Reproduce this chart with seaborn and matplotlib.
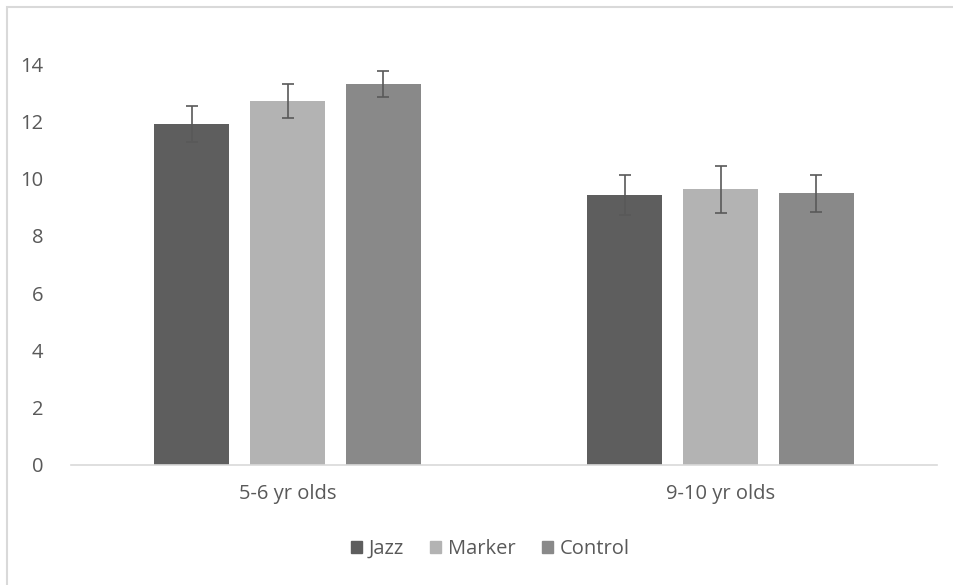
import matplotlib
matplotlib.use('Agg')
import matplotlib.pyplot as plt
import seaborn as sns
import pandas as pd
from matplotlib.patches import Rectangle

# values
groups = ['5-6 yr olds', '9-10 yr olds']
conditions = ['Jazz', 'Marker', 'Control']
jazz = [11.9, 9.43]
marker = [12.72, 9.63]
control = [13.31, 9.48]
jazz_err = [0.63, 0.70]
marker_err = [0.59, 0.82]
control_err = [0.46, 0.65]

colors = ['#5e5e5e', '#b3b3b3', '#898989']
text_color = '#595959'

df = pd.DataFrame({
    'group': groups * 3,
    'condition': [c for c in conditions for _ in groups],
    'score': jazz + marker + control,
    'err': jazz_err + marker_err + control_err,
})

sns.set_style('white')
plt.rcParams['font.family'] = ['Open Sans', 'DejaVu Sans']

fig = plt.figure(figsize=(9.54, 5.85), dpi=100)
ax = fig.add_axes([71/954, 1-465/585, (937-71)/954, (465-64)/585])

sns.barplot(data=df, x='group', y='score', hue='condition', palette=colors,
            width=0.665, gap=0.22, errorbar=None, ax=ax, saturation=1,
            linewidth=0)

# error bars at bar centres
for cont, bars in zip(ax.containers, [jazz_err, marker_err, control_err]):
    for patch, e in zip(cont.patches, bars):
        cx = patch.get_x() + patch.get_width() / 2
        ax.errorbar(cx, patch.get_height(), yerr=e, color='#595959',
                    capsize=4.5, elinewidth=1.2, capthick=1.2, fmt='none')

ax.set_ylim(0, 14)
ax.set_xlim(-0.5, 1.5)
ax.set_yticks(range(0, 15, 2))
ax.set_xlabel('')
ax.set_ylabel('')
for s in ['top', 'right', 'left']:
    ax.spines[s].set_visible(False)
ax.spines['bottom'].set_color('#d9d9d9')
ax.spines['bottom'].set_linewidth(1.2)
ax.tick_params(axis='both', length=0, labelsize=14.5, colors=text_color)
ax.tick_params(axis='y', pad=20)
ax.tick_params(axis='x', pad=14)

ax.legend_.remove()
handles = [Rectangle((0, 0), 1, 1, color=c) for c in colors]
fig.legend(handles, conditions, loc='center', bbox_to_anchor=(0.514, 1-549/585),
           ncol=3, frameon=False, fontsize=14.5, labelcolor=text_color,
           handlelength=0.55, handleheight=0.55, handletextpad=0.35,
           columnspacing=1.3)

# chart border (only top and left visible in the crop)
fig.patches.append(Rectangle((7/954, -0.2), 1.2, 1.2 - 7/585, transform=fig.transFigure,
                             fill=False, edgecolor='#d9d9d9', linewidth=1.5))

fig.savefig('out.png', dpi=100)
